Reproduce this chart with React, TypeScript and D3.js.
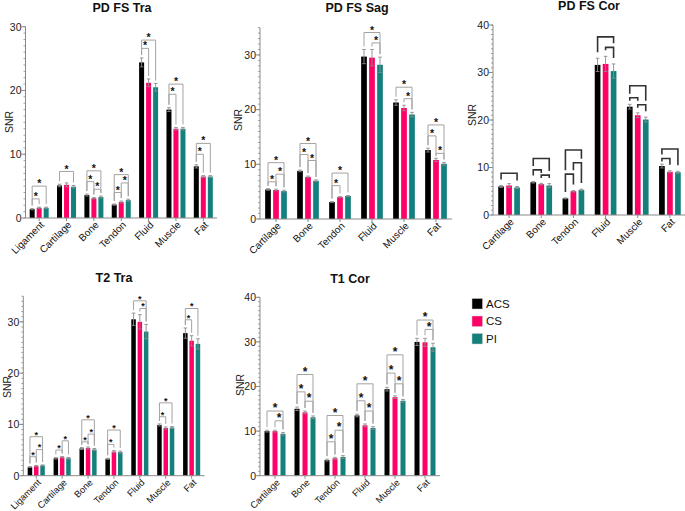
import React from "react";
import * as d3 from "d3";

const SERIES = ["ACS", "CS", "PI"];
const COLORS = ["#000000", "#FF0066", "#13807C"];

// Panel 1: PD FS Tra
const p1Cats = ["Ligament", "Cartilage", "Bone", "Tendon", "Fluid", "Muscle", "Fat"];
const p1ACS = [1.4, 5.1, 3.6, 2.1, 24.4, 17.0, 8.1];
const p1CS = [1.6, 5.2, 3.1, 2.5, 21.2, 14.0, 6.5];
const p1PI = [1.6, 4.9, 3.3, 2.8, 20.5, 14.0, 6.5];
const p1ErrACS = [0.1, 0.2, 0.15, 0.1, 0.7, 0.3, 0.25];
const p1ErrCS = [0.1, 0.3, 0.1, 0.15, 0.6, 0.2, 0.15];
const p1ErrPI = [0.1, 0.2, 0.15, 0.15, 0.6, 0.2, 0.15];
// [group, from, to, level]
const p1Brackets = [
  [0, 0, 1, 3.0], [0, 0, 2, 5.0],
  [1, 0, 2, 7.3],
  [2, 0, 2, 7.4], [2, 0, 1, 5.7], [2, 1, 2, 4.5],
  [3, 0, 2, 6.8], [3, 1, 2, 5.5], [3, 0, 1, 4.0],
  [4, 0, 2, 27.9], [4, 0, 1, 26.6],
  [5, 0, 2, 21.0], [5, 0, 1, 19.4],
  [6, 0, 2, 11.7], [6, 0, 1, 10.0],
];

// Panel 2: PD FS Sag
const p2Cats = ["Cartilage", "Bone", "Tendon", "Fluid", "Muscle", "Fat"];
const p2ACS = [5.4, 8.8, 3.1, 29.7, 21.3, 12.6];
const p2CS = [5.3, 7.7, 4.0, 29.5, 20.3, 10.8];
const p2PI = [5.1, 7.0, 4.2, 28.2, 19.1, 10.1];
const p2ErrACS = [0.15, 0.15, 0.1, 1.3, 0.5, 0.35];
const p2ErrCS = [0.15, 0.15, 0.1, 1.5, 0.5, 0.3];
const p2ErrPI = [0.15, 0.15, 0.1, 1.4, 0.4, 0.25];
const p2Brackets = [
  [0, 0, 1, 6.8], [0, 1, 2, 8.2], [0, 0, 2, 10.3],
  [1, 0, 2, 13.8], [1, 0, 1, 11.8], [1, 1, 2, 10.7],
  [2, 0, 1, 6.1], [2, 0, 2, 8.4],
  [3, 0, 2, 34.1], [3, 1, 2, 32.2],
  [4, 0, 2, 24.1], [4, 1, 2, 22.0],
  [5, 0, 2, 17.2], [5, 0, 1, 15.2], [5, 1, 2, 12.0],
];

// Panel 3: PD FS Cor
const p3Cats = ["Cartilage", "Bone", "Tendon", "Fluid", "Muscle", "Fat"];
const p3ACS = [6.0, 6.9, 3.5, 31.6, 22.8, 10.3];
const p3CS = [6.2, 6.5, 5.0, 31.8, 21.0, 9.1];
const p3PI = [5.8, 6.2, 5.3, 30.3, 20.1, 9.0];
const p3ErrACS = [0.2, 0.15, 0.1, 1.4, 0.5, 0.4];
const p3ErrCS = [0.4, 0.15, 0.15, 1.6, 0.5, 0.2];
const p3ErrPI = [0.2, 0.4, 0.15, 1.5, 0.5, 0.2];
const p3Brackets = [
  [0, 0, 2, 8.8],
  [1, 0, 2, 11.9], [1, 0, 1, 9.5], [1, 1, 2, 8.4],
  [2, 0, 2, 13.7], [2, 1, 2, 11.0], [2, 0, 1, 8.6],
  [3, 0, 2, 37.5], [3, 1, 2, 35.3],
  [4, 0, 2, 27.2], [4, 0, 1, 24.7], [4, 1, 2, 23.2],
  [5, 0, 2, 13.9], [5, 0, 1, 11.9],
];

// Panel 4: T2 Tra
const p4Cats = ["Ligament", "Cartilage", "Bone", "Tendon", "Fluid", "Muscle", "Fat"];
const p4ACS = [1.7, 3.4, 5.3, 3.3, 30.5, 9.9, 27.8];
const p4CS = [1.9, 3.6, 5.4, 4.7, 30.0, 9.3, 26.3];
const p4PI = [2.0, 3.4, 5.1, 4.6, 28.1, 9.4, 25.7];
const p4ErrACS = [0.1, 0.15, 0.2, 0.1, 1.2, 0.2, 1.0];
const p4ErrCS = [0.1, 0.15, 0.2, 0.2, 1.4, 0.2, 1.0];
const p4ErrPI = [0.1, 0.15, 0.2, 0.2, 1.4, 0.2, 1.0];
const p4Brackets = [
  [0, 0, 1, 3.7], [0, 1, 2, 5.1], [0, 0, 2, 7.6],
  [1, 0, 1, 5.0], [1, 1, 2, 6.8],
  [2, 0, 1, 6.6], [2, 1, 2, 8.1], [2, 0, 2, 10.9],
  [3, 0, 1, 6.1], [3, 0, 2, 8.9],
  [4, 0, 2, 34.1], [4, 1, 2, 32.6],
  [5, 0, 1, 11.5], [5, 0, 2, 14.2],
  [6, 0, 1, 30.4], [6, 0, 2, 32.6],
];

// Panel 5: T1 Cor
const p5Cats = ["Cartilage", "Bone", "Tendon", "Fluid", "Muscle", "Fat"];
const p5ACS = [10.0, 15.0, 3.5, 13.5, 19.4, 30.0];
const p5CS = [10.0, 14.2, 3.9, 11.3, 17.6, 29.9];
const p5PI = [9.4, 13.1, 4.2, 10.7, 16.8, 28.8];
const p5ErrACS = [0.2, 0.4, 0.2, 0.3, 0.4, 0.8];
const p5ErrCS = [0.2, 0.3, 0.2, 0.3, 0.3, 0.9];
const p5ErrPI = [0.3, 0.3, 0.3, 0.3, 0.3, 0.9];
const p5Brackets = [
  [0, 0, 2, 14.5], [0, 1, 2, 12.3],
  [1, 0, 2, 22.7], [1, 0, 1, 18.8], [1, 1, 2, 16.7],
  [2, 0, 2, 13.5], [2, 1, 2, 10.2], [2, 0, 1, 7.6],
  [3, 0, 2, 20.6], [3, 0, 1, 16.8], [3, 1, 2, 14.5],
  [4, 0, 2, 27.1], [4, 0, 1, 23.0], [4, 1, 2, 20.6],
  [5, 0, 2, 34.9], [5, 1, 2, 32.8],
];

const FONT = "'Liberation Sans', Arial, Helvetica, sans-serif";

type PanelProps = {
  title: string;
  cats: string[];
  series: number[][];
  errs: number[][];
  brackets: number[][];
  yMax: number;
  ticks: number[];
  x0: number;
  x1: number;
  yBottom: number;
  yTop: number;
  titleX: number;
  titleY: number;
  snrX: number;
  snrY: number;
  barW: number;
  barStep: number;
  stars: boolean;
  starSize?: number;
  labelSize?: number;
  dark?: boolean;
};

function Panel(p: PanelProps) {
  const x = d3.scaleBand<string>().domain(p.cats).range([p.x0, p.x1]).padding(0);
  const y = d3.scaleLinear().domain([0, p.yMax]).range([p.yBottom, p.yTop]);
  const minor = d3.range(0, p.yMax + 0.001, 1);
  const axisColor = "#8a8a8a";
  const brColor = p.dark ? "#333" : "#a3a3a3";
  const brW = p.dark ? 1.6 : 1;
  const gap = p.dark ? 6 : 3;
  const starSize = p.starSize ?? 10.5;
  const labelSize = p.labelSize ?? 10;
  const barX = (g: number, s: number) => {
    const c = (x(p.cats[g]) as number) + x.bandwidth() / 2;
    return c + (s - 1) * p.barStep;
  };
  const legEnd = (g: number, bar: number, lvl: number) => {
    let end = y(p.series[bar][g] + p.errs[bar][g]) - gap;
    if (p.dark) {
      p.brackets.forEach((o) => {
        if (o[0] === g && o[3] < lvl && o[1] <= bar && o[2] >= bar) {
          end = Math.min(end, y(o[3]) - 4);
        }
      });
    }
    return Math.max(end, y(lvl) + 3);
  };
  return (
    <g>
      <text x={p.titleX} y={p.titleY} textAnchor="middle" fontFamily={FONT} fontWeight="bold" fontSize={12.5} fill="#111">
        {p.title}
      </text>
      <text
        transform={`translate(${p.snrX},${p.snrY}) rotate(-90)`}
        textAnchor="middle"
        fontFamily={FONT}
        fontSize={10.5}
        fill="#222"
      >
        SNR
      </text>
      {p.series.map((vals, s) =>
        vals.map((v, g) => {
          const cx = barX(g, s);
          return (
            <rect
              key={`b${s}-${g}`}
              x={cx - p.barW / 2}
              y={y(v)}
              width={p.barW}
              height={p.yBottom - y(v)}
              fill={COLORS[s]}
            />
          );
        })
      )}
      {p.series.map((vals, s) =>
        vals.map((v, g) => {
          const cx = barX(g, s);
          const e = p.errs[s][g];
          return (
            <g key={`e${s}-${g}`} stroke="#8c8c8c" strokeWidth={0.9}>
              <line x1={cx} x2={cx} y1={y(v + e)} y2={y(v - e)} />
              <line x1={cx - 1.8} x2={cx + 1.8} y1={y(v + e)} y2={y(v + e)} />
              <line x1={cx - 1.8} x2={cx + 1.8} y1={y(v - e)} y2={y(v - e)} />
            </g>
          );
        })
      )}
      <line x1={p.x0} x2={p.x0} y1={y(p.yMax)} y2={p.yBottom} stroke={axisColor} strokeWidth={1} />
      <line x1={p.x0} x2={p.x1} y1={p.yBottom} y2={p.yBottom} stroke={axisColor} strokeWidth={1} />
      {minor.map((t) => (
        <line key={`m${t}`} x1={p.x0 - 2} x2={p.x0} y1={y(t)} y2={y(t)} stroke={axisColor} strokeWidth={0.8} />
      ))}
      {p.ticks.map((t) => (
        <g key={`t${t}`}>
          <line x1={p.x0 - 4} x2={p.x0} y1={y(t)} y2={y(t)} stroke={axisColor} strokeWidth={1} />
          <text x={p.x0 - 4} y={y(t) + 3.8} textAnchor="end" fontFamily={FONT} fontSize={10.5} fill="#222">
            {t}
          </text>
        </g>
      ))}
      {p.cats.map((c) => {
        const cx = (x(c) as number) + x.bandwidth() / 2;
        return (
          <g key={`xt${c}`}>
            <line x1={cx} x2={cx} y1={p.yBottom} y2={p.yBottom + 3} stroke={axisColor} strokeWidth={1} />
            <text
              transform={`translate(${cx + 3},${p.yBottom + 5}) rotate(-45)`}
              textAnchor="end"
              fontFamily={FONT}
              fontSize={labelSize}
              fill="#111"
              dy="0.35em"
            >
              {c}
            </text>
          </g>
        );
      })}
      {p.brackets.map((b, k) => {
        const [g, i, j, lvl] = b;
        const xa = barX(g, i);
        const xb = barX(g, j);
        const yb = y(lvl);
        const ya = legEnd(g, i, lvl);
        const yc = legEnd(g, j, lvl);
        return (
          <g key={`br${k}`}>
            <path d={`M${xa},${ya}V${yb}H${xb}V${yc}`} fill="none" stroke={brColor} strokeWidth={brW} />
            {p.stars && (
              <text
                x={(xa + xb) / 2}
                y={yb + starSize * 0.1}
                textAnchor="middle"
                fontFamily={FONT}
                fontWeight="bold"
                fontSize={starSize}
                fill="#111"
              >
                *
              </text>
            )}
          </g>
        );
      })}
    </g>
  );
}

export default function App() {
  return (
    <svg width={685} height={511} style={{ position: "absolute", left: 0, top: 0, background: "#fff" }}>
      <Panel
        title="PD FS Tra"
        cats={p1Cats}
        series={[p1ACS, p1CS, p1PI]}
        errs={[p1ErrACS, p1ErrCS, p1ErrPI]}
        brackets={p1Brackets}
        yMax={30}
        ticks={[0, 10, 20, 30]}
        x0={25.5}
        x1={217}
        yBottom={218}
        yTop={26.7}
        titleX={122}
        titleY={12}
        snrX={13}
        snrY={122}
        barW={5}
        barStep={7}
        stars={true}
      />
      <Panel
        title="PD FS Sag"
        cats={p2Cats}
        series={[p2ACS, p2CS, p2PI]}
        errs={[p2ErrACS, p2ErrCS, p2ErrPI]}
        brackets={p2Brackets}
        yMax={35}
        ticks={[0, 10, 20, 30]}
        x0={260}
        x1={452}
        yBottom={219}
        yTop={27.6}
        titleX={357}
        titleY={12}
        snrX={242}
        snrY={120}
        barW={5.7}
        barStep={8}
        stars={true}
      />
      <Panel
        title="PD FS Cor"
        cats={p3Cats}
        series={[p3ACS, p3CS, p3PI]}
        errs={[p3ErrACS, p3ErrCS, p3ErrPI]}
        brackets={p3Brackets}
        yMax={40}
        ticks={[0, 10, 20, 30, 40]}
        x0={493}
        x1={686}
        yBottom={215}
        yTop={25}
        titleX={589}
        titleY={10}
        snrX={476}
        snrY={115}
        barW={5.7}
        barStep={8}
        stars={false}
        dark={true}
      />
      <Panel
        title="T2 Tra"
        cats={p4Cats}
        series={[p4ACS, p4CS, p4PI]}
        errs={[p4ErrACS, p4ErrCS, p4ErrPI]}
        brackets={p4Brackets}
        yMax={35}
        ticks={[0, 10, 20, 30]}
        x0={23.3}
        x1={204.6}
        yBottom={475.7}
        yTop={296.2}
        titleX={114}
        titleY={282}
        snrX={11}
        snrY={387}
        barW={4.5}
        barStep={6.3}
        stars={true}
        starSize={9}
        labelSize={9.3}
      />
      <Panel
        title="T1 Cor"
        cats={p5Cats}
        series={[p5ACS, p5CS, p5PI]}
        errs={[p5ErrACS, p5ErrCS, p5ErrPI]}
        brackets={p5Brackets}
        yMax={40}
        ticks={[0, 10, 20, 30, 40]}
        x0={260}
        x1={440}
        yBottom={475.7}
        yTop={297.3}
        titleX={350}
        titleY={283}
        snrX={244}
        snrY={385}
        barW={5}
        barStep={8}
        stars={true}
        starSize={12}
        labelSize={9.3}
      />
      {SERIES.map((s, i) => (
        <g key={s}>
          <rect x={472} y={298.5 + i * 17.5} width={10.5} height={10.5} fill={COLORS[i]} stroke="#ccc" strokeWidth={0.5} />
          <text x={486} y={303.7 + i * 17.5} dy="0.35em" fontFamily={FONT} fontSize={11.5} fill="#111">
            {s}
          </text>
        </g>
      ))}
    </svg>
  );
}
